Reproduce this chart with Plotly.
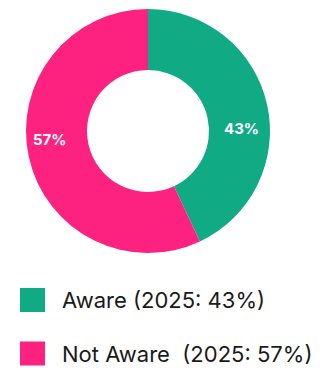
import plotly.graph_objects as go

# Survey result: awareness share in 2025
categories = ["Aware", "Not Aware"]
values = [43, 57]
year = 2025
colors = ["#10ab85", "#fd2180"]

W, H = 322, 371

fig = go.Figure(
    go.Pie(
        labels=categories,
        values=values,
        hole=0.5,
        sort=False,
        direction="clockwise",
        rotation=0,
        marker=dict(colors=colors, line=dict(width=0)),
        textinfo="none",
        hoverinfo="skip",
        showlegend=False,
        domain=dict(x=[26 / W, 270 / W], y=[1 - 253 / H, 1 - 9 / H]),
    )
)

# Percentage labels inside the ring
label_pos = [(241, 128), (50, 139)]
for v, (px, py) in zip(values, label_pos):
    fig.add_annotation(
        x=px / W, y=1 - py / H, xref="paper", yref="paper",
        text=f"<b>{v}%</b>", showarrow=False,
        font=dict(family="Inter, Arial, sans-serif", size=15, color="white"),
        xanchor="center", yanchor="middle",
    )

# Legend drawn as coloured squares with captions
legend_rows = [300, 353.5]
legend_text = [
    f"{categories[0]} ({year}: {values[0]}%)",
    f"{categories[1]}\u00a0 ({year}: {values[1]}%)",
]
for c, t, cy in zip(colors, legend_text, legend_rows):
    fig.add_shape(
        type="rect", xref="paper", yref="paper",
        x0=20 / W, x1=45 / W, y0=1 - (cy + 12) / H, y1=1 - (cy - 12) / H,
        fillcolor=c, line=dict(width=0),
    )
    fig.add_annotation(
        x=60 / W, y=1 - cy / H, xref="paper", yref="paper",
        text=t, showarrow=False,
        font=dict(family="Inter, Arial, sans-serif", size=22, color="#1a1a1a"),
        xanchor="left", yanchor="middle",
    )

fig.update_layout(
    width=W, height=H,
    margin=dict(l=0, r=0, t=0, b=0),
    paper_bgcolor="white",
    plot_bgcolor="white",
)

fig.write_html("out.html")
